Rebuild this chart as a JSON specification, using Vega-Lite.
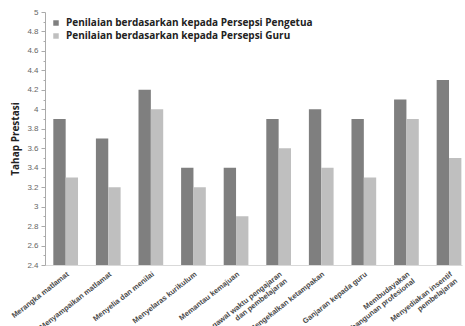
{
  "$schema": "https://vega.github.io/schema/vega-lite/v6.json",
  "autosize": "none",
  "width": 417,
  "height": 253,
  "padding": {"left": 45, "top": 12, "right": 3, "bottom": 61},
  "background": "white",
  "config": {"view": {"stroke": null}, "font": "Liberation Sans"},
  "data": {"values": [
    {"cat": "Merangka matlamat", "series": "Penilaian berdasarkan kepada Persepsi Pengetua", "value": 3.9},
    {"cat": "Merangka matlamat", "series": "Penilaian berdasarkan kepada Persepsi Guru", "value": 3.3},
    {"cat": "Menyampaikan matlamat", "series": "Penilaian berdasarkan kepada Persepsi Pengetua", "value": 3.7},
    {"cat": "Menyampaikan matlamat", "series": "Penilaian berdasarkan kepada Persepsi Guru", "value": 3.2},
    {"cat": "Menyelia dan menilai", "series": "Penilaian berdasarkan kepada Persepsi Pengetua", "value": 4.2},
    {"cat": "Menyelia dan menilai", "series": "Penilaian berdasarkan kepada Persepsi Guru", "value": 4.0},
    {"cat": "Menyelaras kurikulum", "series": "Penilaian berdasarkan kepada Persepsi Pengetua", "value": 3.4},
    {"cat": "Menyelaras kurikulum", "series": "Penilaian berdasarkan kepada Persepsi Guru", "value": 3.2},
    {"cat": "Memantau kemajuan", "series": "Penilaian berdasarkan kepada Persepsi Pengetua", "value": 3.4},
    {"cat": "Memantau kemajuan", "series": "Penilaian berdasarkan kepada Persepsi Guru", "value": 2.9},
    {"cat": "Mengawal waktu pengajaran|dan pembelajaran", "series": "Penilaian berdasarkan kepada Persepsi Pengetua", "value": 3.9},
    {"cat": "Mengawal waktu pengajaran|dan pembelajaran", "series": "Penilaian berdasarkan kepada Persepsi Guru", "value": 3.6},
    {"cat": "Mengekalkan ketampakan", "series": "Penilaian berdasarkan kepada Persepsi Pengetua", "value": 4.0},
    {"cat": "Mengekalkan ketampakan", "series": "Penilaian berdasarkan kepada Persepsi Guru", "value": 3.4},
    {"cat": "Ganjaran kepada guru", "series": "Penilaian berdasarkan kepada Persepsi Pengetua", "value": 3.9},
    {"cat": "Ganjaran kepada guru", "series": "Penilaian berdasarkan kepada Persepsi Guru", "value": 3.3},
    {"cat": "Membudayakan|pembangunan profesional", "series": "Penilaian berdasarkan kepada Persepsi Pengetua", "value": 4.1},
    {"cat": "Membudayakan|pembangunan profesional", "series": "Penilaian berdasarkan kepada Persepsi Guru", "value": 3.9},
    {"cat": "Menyediakan insentif|pembelajaran", "series": "Penilaian berdasarkan kepada Persepsi Pengetua", "value": 4.3},
    {"cat": "Menyediakan insentif|pembelajaran", "series": "Penilaian berdasarkan kepada Persepsi Guru", "value": 3.5}
  ]},
  "mark": {"type": "bar", "clip": true},
  "encoding": {
    "x": {
      "field": "cat", "type": "nominal", "sort": null,
      "scale": {"paddingInner": 0.42, "paddingOuter": 0.105, "align": 0.93},
      "axis": {
        "title": null, "labelAngle": -38, "labelAlign": "right", "labelBaseline": "top",
        "labelExpr": "split(datum.label, '|')", "labelFontSize": 7.5, "labelFontWeight": "bold",
        "labelColor": "#4a4a4a", "ticks": false, "domainColor": "#d9d9d9", "labelPadding": 5,
        "labelLimit": 200, "labelLineHeight": 8.5
      }
    },
    "xOffset": {"field": "series", "type": "nominal", "sort": null},
    "y": {
      "field": "value", "type": "quantitative",
      "scale": {"domain": [2.4, 5], "zero": false, "nice": false},
      "axis": {
        "title": "Tahap Prestasi", "titleFontSize": 10, "titleFontWeight": "bold", "titleColor": "#222222",
        "titleFont": "Open Sans", "titlePadding": 6,
        "values": [2.4, 2.5, 2.6, 2.7, 2.8, 2.9, 3.0, 3.1, 3.2, 3.3, 3.4, 3.5, 3.6, 3.7, 3.8, 3.9, 4.0, 4.1, 4.2, 4.3, 4.4, 4.5, 4.6, 4.7, 4.8, 4.9, 5.0],
        "labelExpr": "round(datum.value*10) % 2 == 0 ? format(datum.value, '~g') : ''",
        "tickSize": {"condition": {"test": "round(datum.value*10) % 2 == 0", "value": 4}, "value": 2},
        "grid": false, "labelFontSize": 8, "labelColor": "#666666", "domainColor": "#aaaaaa",
        "tickColor": "#aaaaaa", "labelPadding": 3, "labelOverlap": false
      }
    },
    "color": {
      "field": "series", "type": "nominal", "sort": null,
      "scale": {"range": ["#7f7f7f", "#bfbfbf"]},
      "legend": {
        "title": null, "orient": "none", "legendX": 6, "legendY": 6, "symbolType": "square",
        "symbolSize": 30, "labelFont": "Open Sans", "labelFontSize": 10, "labelFontWeight": "bold",
        "labelColor": "#222222", "rowPadding": 3, "labelLimit": 400, "labelOffset": 5
      }
    }
  }
}
